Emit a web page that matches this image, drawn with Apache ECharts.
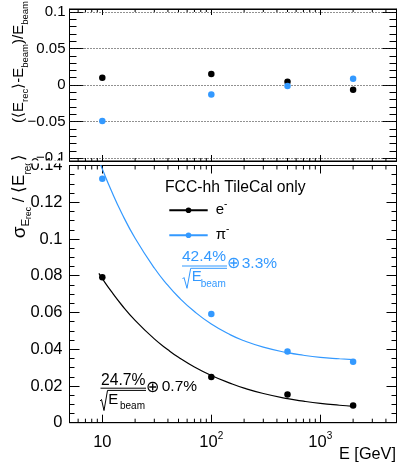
<!DOCTYPE html>
<html><head><meta charset="utf-8">
<script src="https://cdn.jsdelivr.net/npm/echarts@6/dist/echarts.min.js"></script>
<style>html,body{margin:0;padding:0;background:#fff}#c{width:400px;height:465px}</style>
</head><body><div id="c"></div>
<script>
// ---- data ----
const energies = [10, 100, 500, 2000];
const eRes  = [0.0792, 0.0249, 0.0153, 0.0093];
const piRes = [0.1328, 0.0592, 0.0387, 0.0332];
const eBias  = [0.0100, 0.0150, 0.0045, -0.0064];
const piBias = [-0.0493, -0.0130, -0.0014, 0.0086];
// fitted curves
const fitE  = [9.3, 10, 12, 15, 20, 30, 40, 50, 70, 100, 150, 200, 300, 500, 700, 1000, 1500, 2000];
const eFit  = [0.0813, 0.0784, 0.0717, 0.0642, 0.0557, 0.0456, 0.0397, 0.0356, 0.0303, 0.0257, 0.0214, 0.0188, 0.0159, 0.0131, 0.0117, 0.0105, 0.0095, 0.0089];
const piFit = [0.1429, 0.1381, 0.1268, 0.1143, 0.1004, 0.0842, 0.0747, 0.0684, 0.0605, 0.0537, 0.0478, 0.0446, 0.0411, 0.0381, 0.0367, 0.0356, 0.0348, 0.0343];
// tick labels / ticks
const xTickLabels = {10: '10', 100: '10{sup|2}', 1000: '10{sup|3}'};
const xMinorTicks = [6,7,8,9,20,30,40,50,60,70,80,90,200,300,400,500,600,700,800,900,2000,3000,4000];
const biasTicks = [-0.1, -0.05, 0, 0.05, 0.1];
const biasMinorTicks = [-0.1,-0.09,-0.08,-0.07,-0.06,-0.05,-0.04,-0.03,-0.02,-0.01,0,0.01,0.02,0.03,0.04,0.05,0.06,0.07,0.08,0.09,0.1];
const biasGridLines = [-0.1, -0.05, 0, 0.05, 0.1];

const FONT = 'Liberation Sans';
const BLUE = '#3399ff';
const xMin = 5, xMax = 5000;
const resMin = 0, resMax = 0.14;
const biasMin = -0.104, biasMax = 0.104;

const chart = echarts.init(document.getElementById('c'), null, {renderer: 'canvas'});

function xAxisCfg(gridIndex, position, showLabel, tickLen) {
  return {
    type: 'log', logBase: 10, gridIndex, position, min: xMin, max: xMax,
    axisLine: {show: true, onZero: false, lineStyle: {color: '#000', width: 1}},
    axisTick: {show: true, inside: true, length: tickLen, lineStyle: {color: '#000', width: 1}},
    axisLabel: {
      show: showLabel, color: '#000', fontFamily: FONT, fontSize: 16.5, margin: 11, lineHeight: 18,
      formatter: function (v) {
        const k = Math.round(Math.log10(v));
        const p = Math.pow(10, k);
        if (Math.abs(v - p) < 1e-6 * p && xTickLabels[p]) return xTickLabels[p];
        return '';
      },
      rich: {sup: {fontSize: 10, lineHeight: 18, padding: [0, 0, 12, 0], verticalAlign: 'middle', color: '#000', fontFamily: FONT}}
    },
    splitLine: {show: false}, minorTick: {show: false}, minorSplitLine: {show: false}
  };
}

function resY(position, showLabel) {
  return {
    type: 'value', gridIndex: 0, position, min: resMin, max: resMax, interval: 0.02,
    axisLine: {show: true, onZero: false, lineStyle: {color: '#000', width: 1}},
    axisTick: {show: true, inside: true, length: 10, lineStyle: {color: '#000'}},
    minorTick: {show: true, splitNumber: 4, length: 5, lineStyle: {color: '#000'}},
    axisLabel: {show: showLabel, color: '#000', fontFamily: FONT, fontSize: 16.5, margin: 7},
    splitLine: {show: false}
  };
}

function biasY(position, showLabel, ticks, len, showLine) {
  return {
    type: 'value', gridIndex: 1, position, min: biasMin, max: biasMax,
    axisLine: {show: showLine, onZero: false, lineStyle: {color: '#000', width: 1}},
    axisTick: {show: true, inside: true, length: len, customValues: ticks, lineStyle: {color: '#000'}},
    axisLabel: {show: showLabel, customValues: ticks, color: '#000', fontFamily: FONT, fontSize: 15, margin: 4,
      formatter: v => String(v).replace('-', '\u2212')},
    splitLine: {show: false}
  };
}

function minorTickSeries(xi, yi, yLo, yHi, len) {
  return {
    type: 'custom', xAxisIndex: xi, yAxisIndex: yi, silent: true, z: 1,
    data: xMinorTicks.map(v => [v, (yLo + yHi) / 2]),
    renderItem: function (params, api) {
      const v = api.value(0);
      const b = api.coord([v, yLo]);
      const t = api.coord([v, yHi]);
      return {type: 'group', children: [
        {type: 'line', shape: {x1: b[0], y1: b[1], x2: b[0], y2: b[1] - len}, style: {stroke: '#000', lineWidth: 1}},
        {type: 'line', shape: {x1: t[0], y1: t[1], x2: t[0], y2: t[1] + len}, style: {stroke: '#000', lineWidth: 1}}
      ]};
    }
  };
}

function txt(x, y, text, size, color, extra) {
  const el = {type: 'text', x, y, z: 50, style: {text, fontSize: size, fontFamily: FONT, fill: color, align: 'left', verticalAlign: 'middle'}};
  if (extra) Object.assign(el.style, extra);
  return el;
}
function poly(points, color) {
  return {type: 'polyline', z: 50, shape: {points}, style: {stroke: color, lineWidth: 1, fill: null}};
}

const subRich = (size, pad, color) => ({fontSize: size, fontFamily: FONT, fill: color, lineHeight: 20, padding: [pad, 0, 0, 0], verticalAlign: 'middle'});

const option = {
  animation: false,
  backgroundColor: '#fff',
  grid: [
    {left: 69.5, top: 165.5, width: 327, height: 257.2, show: true, borderColor: '#000', borderWidth: 1, backgroundColor: 'transparent'},
    {left: 69.5, top: 9, width: 327, height: 152, show: true, borderColor: '#000', borderWidth: 1, backgroundColor: 'transparent'}
  ],
  xAxis: [
    xAxisCfg(0, 'bottom', true, 8),
    xAxisCfg(0, 'top', false, 8),
    xAxisCfg(1, 'bottom', false, 6),
    xAxisCfg(1, 'top', false, 6)
  ],
  yAxis: [
    resY('left', true),
    resY('right', false),
    biasY('left', true, biasTicks, 14, true),
    biasY('right', false, biasTicks, 14, true),
    biasY('left', false, biasMinorTicks, 7, false),
    biasY('right', false, biasMinorTicks, 7, false)
  ],
  legend: {
    left: 168.3, top: 199.3, orient: 'vertical', padding: 0, itemWidth: 38.4, itemHeight: 7, itemGap: 3,
    selectedMode: false, data: ['e-', 'pi-'],
    formatter: n => n === 'e-' ? '{t|e}{s|-}' : '{t|\u03c0}{s|-}',
    textStyle: {color: '#000', fontFamily: FONT, rich: {
      t: {fontSize: 15, lineHeight: 18, padding: [0, 0, 0, 3], verticalAlign: 'middle', color: '#000', fontFamily: FONT},
      s: {fontSize: 10, lineHeight: 18, padding: [0, 0, 12, 0], verticalAlign: 'middle', color: '#000', fontFamily: FONT}
    }}
  },
  series: [
    {name: 'e-', type: 'line', xAxisIndex: 0, yAxisIndex: 0, smooth: true, showSymbol: false, symbol: 'circle',
      data: fitE.map((e, i) => [e, eFit[i]]), lineStyle: {color: '#000', width: 1.2}, itemStyle: {color: '#000'}, z: 2},
    {name: 'pi-', type: 'line', xAxisIndex: 0, yAxisIndex: 0, smooth: true, showSymbol: false, symbol: 'circle',
      data: fitE.map((e, i) => [e, piFit[i]]), lineStyle: {color: BLUE, width: 1.2}, itemStyle: {color: BLUE}, z: 2},
    {name: 'e- points', type: 'scatter', xAxisIndex: 0, yAxisIndex: 0, symbolSize: 6.5,
      data: energies.map((e, i) => [e, eRes[i]]), itemStyle: {color: '#000', opacity: 1}, z: 3},
    {name: 'pi- points', type: 'scatter', xAxisIndex: 0, yAxisIndex: 0, symbolSize: 6.5,
      data: energies.map((e, i) => [e, piRes[i]]), itemStyle: {color: BLUE, opacity: 1}, z: 3},
    {name: 'e- bias', type: 'scatter', xAxisIndex: 2, yAxisIndex: 2, symbolSize: 6.5,
      data: energies.map((e, i) => [e, eBias[i]]), itemStyle: {color: '#000', opacity: 1}, z: 3},
    {name: 'pi- bias', type: 'scatter', xAxisIndex: 2, yAxisIndex: 2, symbolSize: 6.5,
      data: energies.map((e, i) => [e, piBias[i]]), itemStyle: {color: BLUE, opacity: 1}, z: 3,
      markLine: {silent: true, z: 1, symbol: 'none', label: {show: false},
        lineStyle: {color: '#222', type: [1, 2], width: 1},
        data: biasGridLines.map(v => ({yAxis: v}))}},
    minorTickSeries(0, 0, resMin, resMax, 4),
    minorTickSeries(2, 2, biasMin, biasMax, 3)
  ],
  graphic: [
    // pad overlap: hides the top of the 0.14 label
    {type: 'rect', z: 100, shape: {x: 0, y: 160.6, width: 66, height: 3}, style: {fill: '#fff'}},
    // y-axis titles
    {type: 'text', x: 18.8, y: 62, rotation: Math.PI / 2, z: 50,
      style: {text: '(\u27e8E{s|rec}\u27e9-E{s|beam})/E{s|beam}', fontSize: 15, fontFamily: FONT, fill: '#000',
        align: 'center', verticalAlign: 'middle', lineHeight: 20,
        rich: {s: subRich(9.5, 14, '#000')}}},
    {type: 'text', x: 19.4, y: 196, rotation: Math.PI / 2, z: 50,
      style: {text: '{g|\u03c3}{s|E}{ss|rec} / \u27e8E{s2|rec}\u27e9', fontSize: 17, fontFamily: FONT, fill: '#000',
        align: 'center', verticalAlign: 'middle', lineHeight: 20,
        rich: {g: subRich(19, 0, '#000'), s: subRich(11.5, 13, '#000'), ss: subRich(8.5, 19, '#000'), s2: subRich(10, 17, '#000')}}},
    // x-axis title
    txt(396, 454.5, 'E [GeV]', 16.3, '#000', {align: 'right'}),
    // legend header
    txt(165, 188, 'FCC-hh TileCal only', 15.7, '#000'),
    // pion resolution formula
    txt(182, 257.2, '42.4%', 15.5, BLUE),
    poly([[182, 266], [227, 266]], BLUE),
    poly([[182.5, 279], [184, 277.5], [187, 288.3], [190.7, 268.3], [227, 268.3]], BLUE),
    txt(191.7, 276.7, 'E', 15, BLUE),
    txt(200.7, 284.5, 'beam', 10, BLUE),
    txt(226.5, 264.2, '\u2295', 15.5, BLUE),
    txt(241.7, 264.2, '3.3%', 15.5, BLUE),
    // electron resolution formula
    txt(101, 380.5, '24.7%', 15.7, '#000'),
    poly([[100.5, 388.2], [146, 388.2]], '#000'),
    poly([[100, 401], [101.5, 399.5], [104, 410.5], [107.5, 390.4], [146, 390.4]], '#000'),
    txt(108.3, 400.2, 'E', 15, '#000'),
    txt(120, 406.5, 'beam', 10, '#000'),
    txt(145.5, 387.4, '\u2295', 15.5, '#000'),
    txt(161.7, 387.2, '0.7%', 15.5, '#000')
  ]
};
chart.setOption(option);
</script>
</body></html>
